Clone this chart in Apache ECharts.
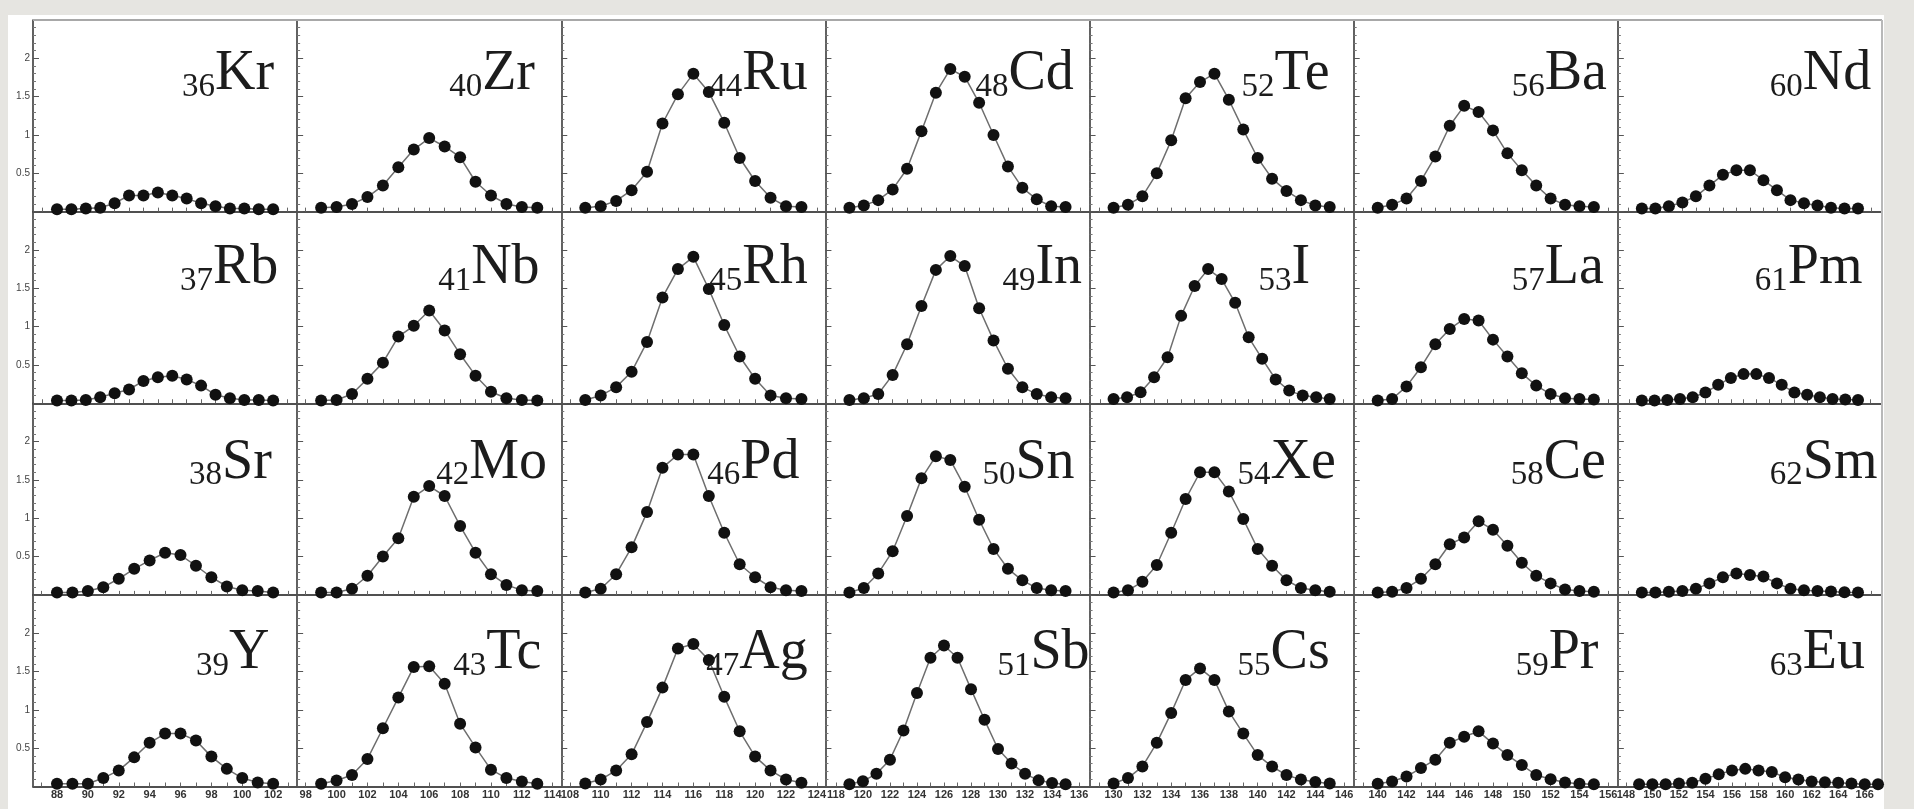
<!DOCTYPE html>
<html>
<head>
<meta charset="utf-8">
<script src="https://cdn.jsdelivr.net/npm/echarts@6/dist/echarts.min.js"></script>
<style>
  html, body { margin: 0; padding: 0; background: #e6e5e1; }
  #sheet { position: absolute; left: 8px; top: 15px; width: 1876px; height: 794px; background: #ffffff; }
  #chart { position: absolute; left: 0; top: 0; width: 1914px; height: 809px; }
</style>
</head>
<body>
<div id="sheet"></div>
<div id="chart"></div>
<script>
// Isotopic yield distributions, one panel per element (row-major, 7 columns x 4 rows)
const symbols = ['Kr', 'Zr', 'Ru', 'Cd', 'Te', 'Ba', 'Nd',
                 'Rb', 'Nb', 'Rh', 'In', 'I',  'La', 'Pm',
                 'Sr', 'Mo', 'Pd', 'Sn', 'Xe', 'Ce', 'Sm',
                 'Y',  'Tc', 'Ag', 'Sb', 'Cs', 'Pr', 'Eu'];
const atomicNumbers = [36, 40, 44, 48, 52, 56, 60,
                       37, 41, 45, 49, 53, 57, 61,
                       38, 42, 46, 50, 54, 58, 62,
                       39, 43, 47, 51, 55, 59, 63];
// mass number of the first point of each panel (points follow at A+1, A+2, ...)
const firstMass = [87, 99, 109, 119, 130, 140, 149,
                   87, 99, 109, 119, 129, 140, 149,
                   88, 99, 109, 119, 130, 140, 149,
                   88, 99, 109, 119, 130, 140, 149];

// yields per element
const Kr = [0.03, 0.03, 0.04, 0.05, 0.11, 0.21, 0.21, 0.25, 0.21, 0.17, 0.11, 0.07, 0.04, 0.04, 0.03, 0.03];
const Zr = [0.05, 0.06, 0.10, 0.19, 0.34, 0.58, 0.81, 0.96, 0.85, 0.71, 0.39, 0.21, 0.10, 0.06, 0.05];
const Ru = [0.05, 0.07, 0.14, 0.28, 0.52, 1.15, 1.53, 1.80, 1.56, 1.16, 0.70, 0.40, 0.18, 0.07, 0.06];
const Cd = [0.05, 0.08, 0.15, 0.29, 0.56, 1.05, 1.55, 1.86, 1.76, 1.42, 1.00, 0.59, 0.31, 0.16, 0.07, 0.06];
const Te = [0.05, 0.09, 0.20, 0.50, 0.93, 1.48, 1.69, 1.80, 1.46, 1.07, 0.70, 0.43, 0.27, 0.15, 0.08, 0.06];
const Ba = [0.05, 0.09, 0.17, 0.40, 0.72, 1.12, 1.38, 1.30, 1.06, 0.76, 0.54, 0.34, 0.17, 0.09, 0.07, 0.06];
const Nd = [0.04, 0.04, 0.07, 0.12, 0.20, 0.34, 0.48, 0.54, 0.54, 0.41, 0.28, 0.15, 0.11, 0.08, 0.05, 0.04, 0.04];

const Rb = [0.035, 0.035, 0.043, 0.078, 0.13, 0.18, 0.29, 0.34, 0.36, 0.31, 0.23, 0.11, 0.065, 0.043, 0.043, 0.035];
const Nb = [0.035, 0.043, 0.12, 0.32, 0.53, 0.87, 1.01, 1.21, 0.95, 0.64, 0.36, 0.15, 0.065, 0.043, 0.035];
const Rh = [0.043, 0.10, 0.21, 0.41, 0.80, 1.38, 1.75, 1.91, 1.49, 1.02, 0.61, 0.32, 0.10, 0.065, 0.056];
const In = [0.043, 0.065, 0.12, 0.37, 0.77, 1.27, 1.74, 1.92, 1.79, 1.24, 0.82, 0.45, 0.21, 0.12, 0.078, 0.065];
const I  = [0.056, 0.078, 0.143, 0.34, 0.60, 1.14, 1.53, 1.75, 1.62, 1.31, 0.86, 0.58, 0.31, 0.165, 0.10, 0.078, 0.056];
const La = [0.035, 0.056, 0.22, 0.47, 0.77, 0.97, 1.10, 1.08, 0.83, 0.61, 0.39, 0.23, 0.12, 0.065, 0.056, 0.048];
const Pm = [0.035, 0.035, 0.043, 0.056, 0.078, 0.14, 0.24, 0.33, 0.38, 0.38, 0.33, 0.24, 0.14, 0.11, 0.078, 0.056, 0.048, 0.043];

const Sr = [0.03, 0.03, 0.05, 0.10, 0.21, 0.34, 0.45, 0.55, 0.52, 0.38, 0.23, 0.11, 0.06, 0.05, 0.03];
const Mo = [0.03, 0.03, 0.08, 0.25, 0.50, 0.74, 1.28, 1.42, 1.29, 0.90, 0.55, 0.27, 0.13, 0.06, 0.05];
const Pd = [0.03, 0.08, 0.27, 0.62, 1.08, 1.66, 1.83, 1.83, 1.29, 0.81, 0.40, 0.23, 0.10, 0.06, 0.05];
const Sn = [0.03, 0.09, 0.28, 0.57, 1.03, 1.52, 1.81, 1.76, 1.41, 0.98, 0.60, 0.34, 0.19, 0.09, 0.06, 0.05];
const Xe = [0.03, 0.06, 0.17, 0.39, 0.81, 1.25, 1.60, 1.60, 1.35, 0.99, 0.60, 0.38, 0.19, 0.09, 0.06, 0.04];
const Ce = [0.03, 0.04, 0.09, 0.21, 0.40, 0.66, 0.75, 0.96, 0.85, 0.64, 0.42, 0.25, 0.15, 0.07, 0.05, 0.04];
const Sm = [0.03, 0.03, 0.04, 0.05, 0.08, 0.15, 0.23, 0.28, 0.26, 0.24, 0.15, 0.08, 0.06, 0.05, 0.045, 0.035, 0.03];

const Y  = [0.035, 0.035, 0.035, 0.11, 0.21, 0.38, 0.57, 0.69, 0.69, 0.60, 0.39, 0.23, 0.11, 0.052, 0.035];
const Tc = [0.035, 0.078, 0.15, 0.36, 0.76, 1.16, 1.56, 1.57, 1.34, 0.82, 0.51, 0.22, 0.11, 0.065, 0.035];
const Ag = [0.04, 0.09, 0.21, 0.42, 0.84, 1.29, 1.80, 1.86, 1.65, 1.17, 0.72, 0.39, 0.21, 0.09, 0.05];
const Sb = [0.03, 0.07, 0.165, 0.35, 0.73, 1.22, 1.68, 1.84, 1.68, 1.27, 0.87, 0.49, 0.30, 0.165, 0.08, 0.045, 0.03];
const Cs = [0.04, 0.11, 0.26, 0.57, 0.96, 1.39, 1.54, 1.39, 0.98, 0.69, 0.41, 0.26, 0.15, 0.09, 0.06, 0.04];
const Pr = [0.035, 0.065, 0.13, 0.24, 0.35, 0.57, 0.65, 0.72, 0.56, 0.41, 0.28, 0.15, 0.095, 0.052, 0.035, 0.03];
const Eu = [0.03, 0.03, 0.03, 0.04, 0.05, 0.10, 0.16, 0.21, 0.23, 0.21, 0.19, 0.12, 0.09, 0.065, 0.056, 0.048, 0.04, 0.03, 0.03];

const yieldSeries = [Kr, Zr, Ru, Cd, Te, Ba, Nd,
                     Rb, Nb, Rh, In, I,  La, Pm,
                     Sr, Mo, Pd, Sn, Xe, Ce, Sm,
                     Y,  Tc, Ag, Sb, Cs, Pr, Eu];

// y range shared by all panels
const yMin = 0, yMax = 2.5, yStep = 0.5;

// ---- layout ----
const COLS = 7, ROWS = 4;
const frame = { left: 33, top: 20, right: 1882, bottom: 786.5 };
const cellW = (frame.right - frame.left) / COLS;
const cellH = (frame.bottom - frame.top) / ROWS;
// x range padding around the data, as a fraction of the data span
const xPadFrac = 0.111;
const xRangeOverride = { Eu: [147.4, 167.3] };
// element label: left offset inside each panel, baseline offset per row
const labelLeft = [149, 152, 148, 150, 152, 158, 152,
                   147, 141, 148, 177, 169, 158, 137,
                   156, 139, 146, 157, 148, 157, 152,
                   163, 156, 145, 172, 148, 162, 152];
const labelBaseline = [73, 76, 78.5, 77.5];
const symSize = 56, subSize = 33, subDrop = 5;
const serif = '"Liberation Serif", "Times New Roman", serif';
const MID = 0.3375; // distance from canvas "middle" to alphabetic baseline, in em

const meas = document.createElement('canvas').getContext('2d');
function textWidth(t, size) {
  meas.font = size + 'px ' + serif;
  return meas.measureText(t).width;
}

const grids = [], xAxes = [], yAxes = [], series = [], graphics = [];

symbols.forEach((sym, i) => {
  const r = Math.floor(i / COLS), c = i % COLS;
  const ys = yieldSeries[i];
  const a0 = firstMass[i], a1 = a0 + ys.length - 1;
  const pad = (a1 - a0) * xPadFrac;
  const [lo, hi] = xRangeOverride[sym] || [a0 - pad, a1 + pad];
  const ints = [];
  for (let a = Math.ceil(lo); a <= Math.floor(hi); a++) ints.push(a);
  const evens = ints.filter(a => a % 2 === 0);

  grids.push({ left: frame.left + c * cellW, top: frame.top + r * cellH, width: cellW, height: cellH });

  xAxes.push({
    type: 'value', gridIndex: i, min: lo, max: hi,
    axisLine: { show: true, onZero: false, lineStyle: { color: '#505050', width: 1.8 } },
    axisTick: { show: true, inside: true, length: 4, customValues: ints, lineStyle: { color: '#666', width: 1 } },
    axisLabel: {
      show: r === ROWS - 1, customValues: evens, fontSize: 11, color: '#333',
      margin: 3, fontFamily: 'Liberation Sans Narrow, Liberation Sans', fontWeight: 'bold'
    },
    splitLine: { show: false }
  });

  yAxes.push({
    type: 'value', gridIndex: i, min: yMin, max: yMax, interval: yStep,
    axisLine: { show: true, onZero: false, lineStyle: { color: '#3a3a3a', width: 1.6 } },
    axisTick: { show: true, inside: true, length: 6, lineStyle: { color: '#555' } },
    minorTick: { show: true, splitNumber: 5, length: 3, lineStyle: { color: '#777' } },
    axisLabel: {
      show: c === 0, fontSize: 10, color: '#444', margin: 3, fontFamily: 'Liberation Sans',
      formatter: v => (v > yMin && v < yMax) ? String(v) : ''
    },
    splitLine: { show: false }
  });

  series.push({
    type: 'line', xAxisIndex: i, yAxisIndex: i,
    data: ys.map((v, k) => [a0 + k, v]),
    symbol: 'circle', symbolSize: 12, showSymbol: true, showAllSymbol: true,
    itemStyle: { color: '#111' },
    lineStyle: { color: '#6e6e6e', width: 1.5 },
    silent: true, animation: false, z: 3
  });

  // element label: subscript atomic number followed by the symbol
  const x0 = frame.left + c * cellW + labelLeft[i];
  const base = frame.top + r * cellH + labelBaseline[r];
  const zStr = String(atomicNumbers[i]);
  graphics.push({
    type: 'text', x: x0, y: base + subDrop - MID * subSize, z: 10,
    style: { text: zStr, fill: '#1c1c1c', fontSize: subSize, fontFamily: serif,
             lineHeight: subSize, align: 'left', verticalAlign: 'middle' }
  });
  graphics.push({
    type: 'text', x: x0 + textWidth(zStr, subSize), y: base - MID * symSize, z: 10,
    style: { text: sym, fill: '#1c1c1c', fontSize: symSize, fontFamily: serif,
             lineHeight: symSize, align: 'left', verticalAlign: 'middle' }
  });
});

// outer frame: top edge and right edge
graphics.push({ type: 'line', z: 1, shape: { x1: frame.left, y1: frame.top, x2: frame.right, y2: frame.top },
                style: { stroke: '#a8a8a8', lineWidth: 2 } });
graphics.push({ type: 'line', z: 1, shape: { x1: frame.right, y1: frame.top, x2: frame.right, y2: frame.bottom },
                style: { stroke: '#b8b8b8', lineWidth: 2 } });

const chart = echarts.init(document.getElementById('chart'), null, { renderer: 'canvas' });
chart.setOption({
  backgroundColor: 'transparent',
  animation: false,
  grid: grids,
  xAxis: xAxes,
  yAxis: yAxes,
  series: series,
  graphic: graphics
});
</script>
</body>
</html>
